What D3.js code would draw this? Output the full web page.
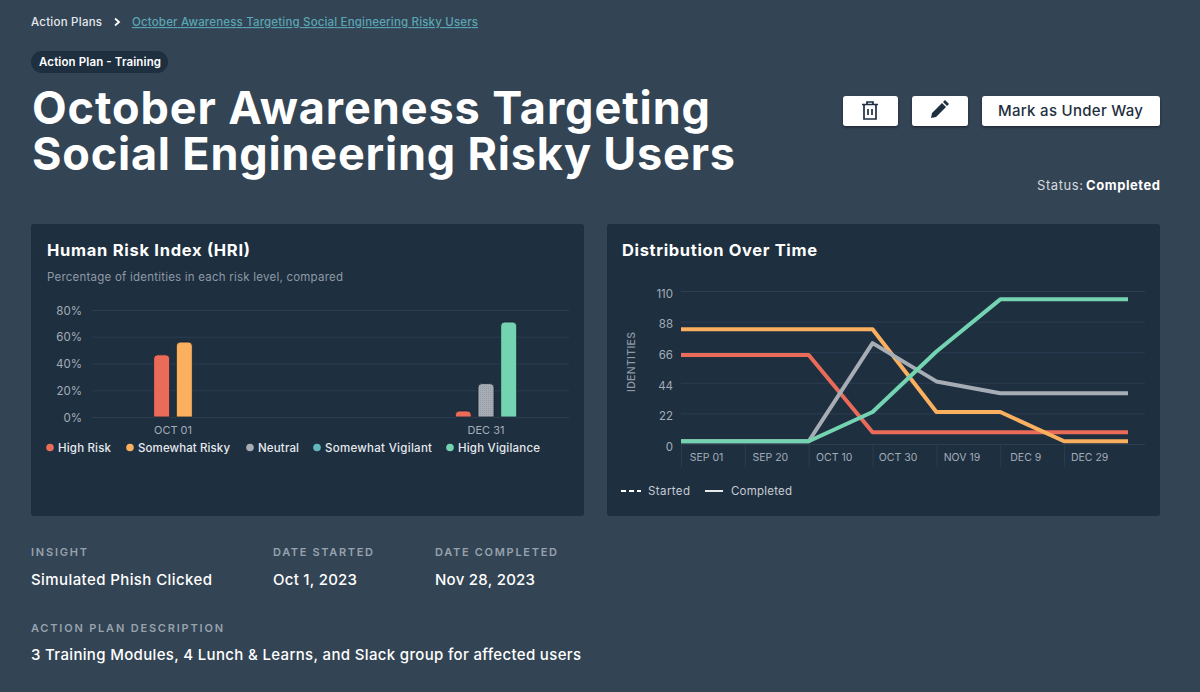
<!DOCTYPE html>
<html>
<head>
<meta charset="utf-8">
<script src="https://cdn.jsdelivr.net/npm/d3@7"></script>
<style>
html,body{margin:0;padding:0;background:#334455;}
svg{display:block;font-family:Inter,"Open Sans",sans-serif;}
.grid line{stroke:#2b3d4f;stroke-width:1;}
.grid path,.axis path{display:none;}
.axis text{fill:#a3adb8;font-size:11.5px;font-family:Inter,sans-serif;}
</style>
</head>
<body>
<div id="chart"></div>
<script>
// ----- DATA -----
const riskLevels = ["High Risk","Somewhat Risky","Neutral","Somewhat Vigilant","High Vigilance"];
const riskColors = ["#ea6b58","#fbb05f","#a7adb5","#62b8b8","#74d4b2"];
const hriDates = ["OCT 01","DEC 31"];
const hriOct = [46.5,56,null,null,null];
const hriDec = [4.5,null,25,null,71];
const hriTicks = [0,20,40,60,80];

const distDates = ["SEP 01","SEP 20","OCT 10","OCT 30","NOV 19","DEC 9","DEC 29"];
const distTicks = [0,22,44,66,88,110];
const highRisk = [64,64,64,8.5,8.5,8.5,8.5,8.5];
const somewhatRisky = [82.5,82.5,82.5,82.5,23,23,2,2];
const neutral = [2,2,2,72.5,45,36.5,36.5,36.5];
const highVigilance = [2,2,2,23,66.5,104,104,104];

const svg = d3.select("#chart").append("svg").attr("width",1200).attr("height",692);
const defs = svg.append("defs");

const shadow = defs.append("filter").attr("id","btn-shadow").attr("x","-10%").attr("y","-10%").attr("width","120%").attr("height","140%");
shadow.append("feDropShadow").attr("dx",0).attr("dy",1.5).attr("stdDeviation",0.8).attr("flood-color","#16222e").attr("flood-opacity",0.8);

// stippled fill on the neutral bar
const dots = defs.append("pattern").attr("id","stipple").attr("width",2).attr("height",2).attr("patternUnits","userSpaceOnUse");
dots.append("rect").attr("width",2).attr("height",2).attr("fill","#a7adb5");
dots.append("rect").attr("width",1).attr("height",1).attr("fill","#969da6");

// text helper, width stretches the text to what the reference measures
function label(x,y,str,size,weight,fill,width,anchor){
    const t = svg.append("text").attr("x",x).attr("y",y).text(str)
        .attr("font-size",size).attr("font-weight",weight).attr("fill",fill)
        .attr("text-anchor",anchor||"start");
    if(width) t.attr("textLength",width).attr("lengthAdjust","spacing");
    return t;
}

// ----- HEADER -----
label(31,26,"Action Plans",11.5,500,"#e4e8ec",71);
svg.append("path").attr("d","M115,18.5 L119,22 L115,25.5").attr("fill","none").attr("stroke","#fff").attr("stroke-width",1.8);
label(132,26,"October Awareness Targeting Social Engineering Risky Users",11.5,500,"#5ba6b3",346).attr("text-decoration","underline");

svg.append("rect").attr("x",31).attr("y",51).attr("width",137).attr("height",22).attr("rx",11).attr("fill","#1e2f40");
label(39,66,"Action Plan - Training",11.5,600,"#fff",122);

// heading, one text block with two lines
const heading = svg.append("text").attr("font-size",45).attr("font-weight",700).attr("fill","#fff");
heading.append("tspan").attr("x",32).attr("y",124).attr("textLength",678).attr("lengthAdjust","spacing").text("October Awareness Targeting");
heading.append("tspan").attr("x",32).attr("y",170).attr("textLength",703).attr("lengthAdjust","spacing").text("Social Engineering Risky Users");

// buttons
[[843,55],[912,56],[982,178]].forEach(b=>{
    svg.append("rect").attr("x",b[0]).attr("y",96).attr("width",b[1]).attr("height",30)
        .attr("rx",3).attr("fill","#fff").attr("filter","url(#btn-shadow)");
});
svg.append("path").attr("fill","none").attr("stroke","#1e2f40").attr("stroke-width",1.7)
    .attr("d","M862,104.5 H878 M867,104.5 V102 H873 V104.5 M864,105 V119 H876 V105 M868,109 V115 M872,109 V115");
svg.append("path").attr("fill","#1e2f40")
    .attr("d","M931,118 L932,113 L942,103 L946,107 L936,117 Z M943,102 L945,100 L949,104 L947,106 Z");
label(998,116,"Mark as Under Way",15,500,"#1e2f40",145);

label(1037,190,"Status:",13,400,"#d5dade",46);
label(1086,190,"Completed",13,700,"#fff",74);

// ----- CARDS -----
[[31,553],[607,553]].forEach(c=>{
    svg.append("rect").attr("x",c[0]).attr("y",224).attr("width",c[1]).attr("height",292).attr("rx",3).attr("fill","#1e2f40");
});

// ----- HRI BARS -----
label(47,256,"Human Risk Index (HRI)",16.5,700,"#fff",203);
label(47,281,"Percentage of identities in each risk level, compared",11.5,400,"#8e99a5",296);

const hriY = d3.scaleLinear().domain([0,80]).range([417,310]);
const hriX = d3.scalePoint().domain(hriDates).range([173,486]);
const barStep = 22.7, barW = 16;

svg.append("g").attr("class","grid").attr("transform","translate(92,0)")
    .call(d3.axisLeft(hriY).tickValues(hriTicks).tickSize(-477).tickFormat(""));
const hriAxis = svg.append("g").attr("class","axis").attr("transform","translate(92,0)")
    .call(d3.axisLeft(hriY).tickValues(hriTicks).tickSize(0).tickPadding(10).tickFormat(d=>d+"%"));
hriAxis.selectAll("text").attr("dy","0.35em");

function topRounded(x,y0,y1,w,r){
    r = Math.min(r,y0-y1);
    return `M${x},${y0} V${y1+r} Q${x},${y1} ${x+r},${y1} H${x+w-r} Q${x+w},${y1} ${x+w},${y1+r} V${y0} Z`;
}
[hriOct,hriDec].forEach((vals,g)=>{
    const bars = vals.map((v,i)=>({v:v,i:i})).filter(d=>d.v!==null);
    svg.append("g").selectAll("path").data(bars).join("path")
        .attr("d",(d,k)=>topRounded(hriX(hriDates[g])+(k-(bars.length-1)/2)*barStep-barW/2,hriY(0),hriY(d.v),barW,4))
        .attr("fill",d=>d.i===2?"url(#stipple)":riskColors[d.i])
        .attr("stroke","#14212e").attr("stroke-width",0.8);
});
hriDates.forEach(d=>{
    label(hriX(d),434,d,11,400,"#a3adb8",null,"middle");
});

// legend
const legendDot = [50,130,250,317,450];
const legendW = [53,92,41,107,82];
riskLevels.forEach((name,i)=>{
    svg.append("circle").attr("cx",legendDot[i]).attr("cy",447.5).attr("r",3.8).attr("fill",riskColors[i]);
    label(legendDot[i]+8,452,name,11.5,500,"#e6eaee",legendW[i]);
});

// ----- DISTRIBUTION LINES -----
label(622,256,"Distribution Over Time",16.5,700,"#fff",195);

const distY = d3.scaleLinear().domain([0,110]).range([444,291]);
const distX = d3.scaleLinear().domain([0,7]).range([681,1128]);

svg.append("g").attr("class","grid").attr("transform","translate(681,0)")
    .call(d3.axisLeft(distY).tickValues(distTicks).tickSize(-464).tickFormat(""));
svg.append("g").attr("class","axis").attr("transform","translate(681,0)")
    .call(d3.axisLeft(distY).tickValues(distTicks).tickSize(0).tickPadding(8))
    .selectAll("text").attr("dy","0.55em");

const xAxis = svg.append("g").attr("class","axis grid").attr("transform","translate(0,444)")
    .call(d3.axisBottom(distX).tickValues(d3.range(distDates.length)).tickSize(23).tickFormat(i=>distDates[i]));
xAxis.selectAll("text").attr("transform","translate(25,-16)").style("font-size","10.5px");

svg.append("text").attr("transform","translate(635,362) rotate(-90)").attr("text-anchor","middle")
    .attr("font-size",10.5).attr("font-weight",500).attr("fill","#8e99a5")
    .attr("textLength",60).attr("lengthAdjust","spacing").text("IDENTITIES");

const line = d3.line().x((d,i)=>distX(i)).y(d=>distY(d));
[[highRisk,0],[somewhatRisky,1],[neutral,2],[highVigilance,4]].forEach(s=>{
    svg.append("path").datum(s[0]).attr("d",line).attr("fill","none")
        .attr("stroke",riskColors[s[1]]).attr("stroke-width",4).attr("stroke-linejoin","round");
});

svg.append("line").attr("x1",621).attr("x2",641).attr("y1",491).attr("y2",491)
    .attr("stroke","#fff").attr("stroke-width",1.8).attr("stroke-dasharray","5 3");
label(648,495,"Started",11.5,400,"#c6ccd3",42);
svg.append("line").attr("x1",705).attr("x2",723).attr("y1",491).attr("y2",491)
    .attr("stroke","#fff").attr("stroke-width",1.8);
label(731,495,"Completed",11.5,400,"#c6ccd3",61);

// ----- DETAILS -----
label(31,556,"INSIGHT",11,600,"#97a2ad",56);
label(273,556,"DATE STARTED",11,600,"#97a2ad",100);
label(435,556,"DATE COMPLETED",11,600,"#97a2ad",122);
label(31,585,"Simulated Phish Clicked",15,500,"#fff",181);
label(273,585,"Oct 1, 2023",15,500,"#fff",84);
label(435,585,"Nov 28, 2023",15,500,"#fff",100);
label(31,632,"ACTION PLAN DESCRIPTION",11,600,"#97a2ad",192);
label(31,660,"3 Training Modules, 4 Lunch & Learns, and Slack group for affected users",15,500,"#fff",550);
</script>
</body>
</html>
